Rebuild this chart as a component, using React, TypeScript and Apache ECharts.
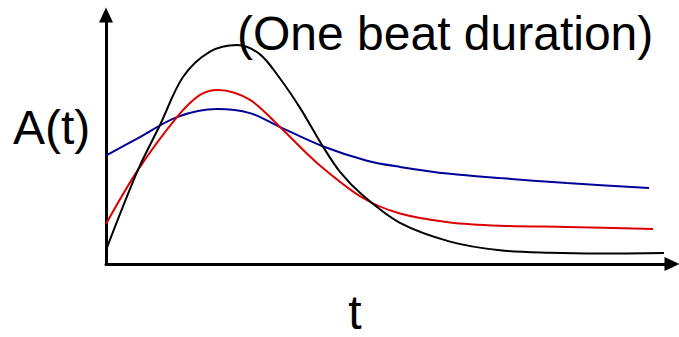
import React, { useEffect, useRef } from "react";
import * as echarts from "echarts";

// Time across one beat (fraction of the axis) and amplitude for each curve
const tBlack = [0, 0.0565, 0.0954, 0.136, 0.1837, 0.2314, 0.2721, 0.3074, 0.3428, 0.3816, 0.4134, 0.454, 0.5194, 0.6078, 0.6961, 0.7845, 0.8728, 0.9859];
const aBlack = [0.056, 0.378, 0.558, 0.751, 0.853, 0.88, 0.842, 0.745, 0.627, 0.478, 0.37, 0.275, 0.165, 0.09, 0.055, 0.045, 0.042, 0.044];

const tRed = [0, 0.0565, 0.1254, 0.166, 0.198, 0.2544, 0.3074, 0.3728, 0.454, 0.5194, 0.6078, 0.6961, 0.8145, 0.9664];
const aRed = [0.161, 0.378, 0.59, 0.679, 0.699, 0.659, 0.55, 0.406, 0.265, 0.203, 0.167, 0.154, 0.149, 0.141];

const tBlue = [-0.0106, 0.06, 0.1254, 0.196, 0.2544, 0.3074, 0.3816, 0.4611, 0.5194, 0.6078, 0.6961, 0.8145, 0.9594];
const aBlue = [0.422, 0.51, 0.59, 0.622, 0.606, 0.55, 0.474, 0.415, 0.39, 0.362, 0.345, 0.325, 0.305];

const titleText = "(One beat duration)";
const yName = "A(t)";
const xName = "t";

const pairs = (t: number[], a: number[]) => t.map((v, i) => [v, a[i]]);

export default function App() {
  const ref = useRef<HTMLDivElement>(null);

  useEffect(() => {
    document.body.style.margin = "0";
    if (!ref.current) return;
    const chart = echarts.init(ref.current, undefined, { renderer: "svg" });
    const font = '"Liberation Sans", Arial, sans-serif';
    const axisCommon = {
      type: "value" as const,
      min: 0,
      max: 1,
      axisTick: { show: false },
      axisLabel: { show: false },
      splitLine: { show: false },
      axisLine: {
        show: true,
        onZero: false,
        symbol: ["none", "triangle"],
        symbolSize: [14, 15],
        lineStyle: { color: "#000", width: 3 },
      },
    };
    const line = (name: string, color: string, data: number[][]) => ({
      name,
      type: "line" as const,
      data,
      smooth: 0.32,
      showSymbol: false,
      clip: false,
      lineStyle: { color, width: 2 },
    });
    chart.setOption({
      animation: false,
      backgroundColor: "#fff",
      grid: { left: 106, right: 7, top: 15, bottom: 73 },
      xAxis: axisCommon,
      yAxis: axisCommon,
      series: [
        line("blue", "#000099", pairs(tBlue, aBlue)),
        line("red", "#dd0000", pairs(tRed, aRed)),
        line("black", "#000000", pairs(tBlack, aBlack)),
      ],
      graphic: [
        {
          type: "text",
          x: 237,
          y: 33,
          style: { text: titleText, fontSize: 48, fontFamily: font, fill: "#000", align: "left", verticalAlign: "middle" },
        },
        {
          type: "text",
          x: 13,
          y: 127,
          style: { text: yName, fontSize: 48, fontFamily: font, fill: "#000", align: "left", verticalAlign: "middle" },
        },
        {
          type: "text",
          x: 355,
          y: 312,
          style: { text: xName, fontSize: 48, fontFamily: font, fill: "#000", align: "center", verticalAlign: "middle" },
        },
      ],
    });
    return () => chart.dispose();
  }, []);

  return <div ref={ref} style={{ width: 679, height: 337 }} />;
}
